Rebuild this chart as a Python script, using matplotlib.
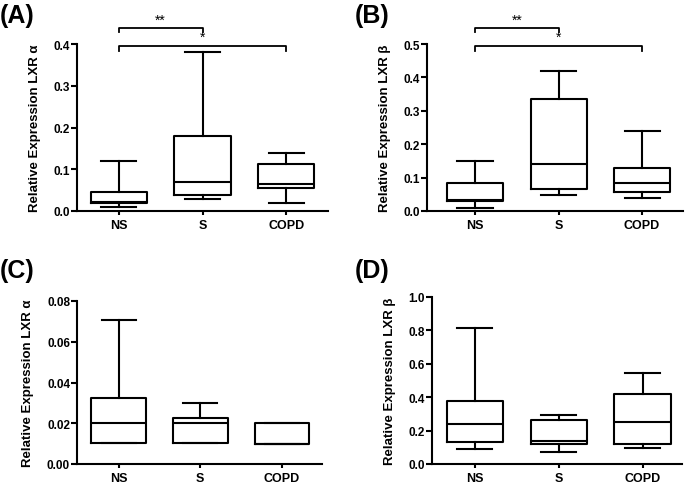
import matplotlib
matplotlib.use("Agg")
import matplotlib.pyplot as plt

plt.rcParams['font.family'] = ['Liberation Sans', 'DejaVu Sans']

groups = ["NS", "S", "COPD"]

# box stats per panel: whislo, q1, med, q3, whishi
lxra_a = [(0.009, 0.019, 0.022, 0.045, 0.119),
          (0.029, 0.038, 0.069, 0.180, 0.380),
          (0.020, 0.056, 0.065, 0.112, 0.139)]
lxrb_b = [(0.008, 0.029, 0.032, 0.083, 0.149),
          (0.049, 0.067, 0.141, 0.335, 0.420),
          (0.039, 0.058, 0.085, 0.129, 0.239)]
lxra_c = [(0.0103, 0.0103, 0.0202, 0.0326, 0.0705),
          (0.0103, 0.0103, 0.0200, 0.0226, 0.0300),
          (0.0100, 0.0100, 0.0100, 0.0200, 0.0200)]
lxrb_d = [(0.088, 0.131, 0.237, 0.375, 0.813),
          (0.072, 0.122, 0.137, 0.265, 0.291),
          (0.098, 0.118, 0.251, 0.422, 0.544)]

panels = [
    ("(A)", lxra_a, "Relative Expression LXR α", [0.0, 0.1, 0.2, 0.3, 0.4], "%.1f"),
    ("(B)", lxrb_b, "Relative Expression LXR β", [0.0, 0.1, 0.2, 0.3, 0.4, 0.5], "%.1f"),
    ("(C)", lxra_c, "Relative Expression LXR α", [0.00, 0.02, 0.04, 0.06, 0.08], "%.2f"),
    ("(D)", lxrb_d, "Relative Expression LXR β", [0.0, 0.2, 0.4, 0.6, 0.8, 1.0], "%.1f"),
]

# significance brackets (i, j, y, drop, label)
sig_a = [(0, 1, 0.4375, 0.0096, "**"), (0, 2, 0.396, 0.012, "*")]
sig_b = [(0, 1, 0.547, 0.012, "**"), (0, 2, 0.495, 0.015, "*")]

W, H = 685, 485
rects = [(77, 212, 328, 45), (427, 212, 683, 45), (77, 465, 322, 302), (432, 465, 682, 298)]
xlims = [(-0.5, 2.5), (-0.575, 2.49), (-0.51, 2.49), (-0.51, 2.47)]
labpos = [(0, 16), (355, 16), (0, 271), (355, 271)]

fig = plt.figure(figsize=(W / 100, H / 100), dpi=100)

axes = []
for k, (tag, data, ylab, ticks, fmt) in enumerate(panels):
    l, b, r, t = rects[k]
    ax = fig.add_axes([l / W, (H - b) / H, (r - l) / W, (b - t) / H])
    axes.append(ax)
    stats = []
    for g, (lo, q1, med, q3, hi) in zip(groups, data):
        stats.append(dict(label=g, whislo=lo, q1=q1, med=med, q3=q3, whishi=hi, fliers=[]))
    lw = 1.5
    ax.bxp(stats, positions=[0, 1, 2], widths=0.67, capwidths=0.42, showfliers=False,
           boxprops=dict(color="black", linewidth=lw),
           whiskerprops=dict(color="black", linewidth=lw),
           capprops=dict(color="black", linewidth=lw),
           medianprops=dict(color="black", linewidth=lw))
    ax.set_xlim(*xlims[k])
    ax.set_ylim(ticks[0], ticks[-1])
    ax.set_yticks(ticks)
    ax.set_yticklabels([fmt % v for v in ticks])
    ax.spines["top"].set_visible(False)
    ax.spines["right"].set_visible(False)
    for s in ["left", "bottom"]:
        ax.spines[s].set_linewidth(1.5)
    ax.tick_params(axis="y", direction="out", length=4, width=1.5, labelsize=8.5, pad=1)
    ax.tick_params(axis="x", direction="out", length=3, width=1.5, labelsize=9, pad=3)
    for lab in ax.get_xticklabels() + ax.get_yticklabels():
        lab.set_fontweight("bold")
    ax.set_ylabel(ylab, fontsize=9.5, fontweight="bold", labelpad=9)
    fig.text(labpos[k][0] / W, 1 - labpos[k][1] / H, tag, fontsize=18, fontweight="bold",
             va="center", ha="left")

for ax, sigs in [(axes[0], sig_a), (axes[1], sig_b)]:
    for i, j, y, d, txt in sigs:
        ax.plot([i, i, j, j], [y - d, y, y, y - d], color="black", lw=1.3, clip_on=False)
        ax.text((i + j) / 2, y + d * 0.3, txt, ha="center", va="bottom", fontsize=10, clip_on=False)

fig.savefig("out.png", dpi=100)
